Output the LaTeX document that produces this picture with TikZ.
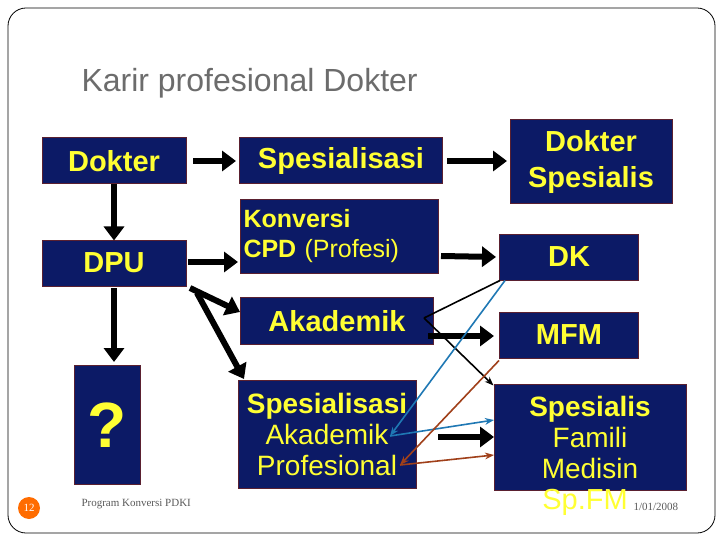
\documentclass[tikz,border=0pt]{standalone}
\usepackage{fontspec}
\setmainfont{Liberation Sans}
\newfontfamily\serifx{Liberation Serif}
\usetikzlibrary{arrows.meta}
\definecolor{navy}{HTML}{0C1A66}
\definecolor{yel}{HTML}{FFFF33}
\definecolor{bord}{HTML}{5A2030}
\definecolor{blu}{HTML}{1F78B4}
\definecolor{brn}{HTML}{A0401A}
\begin{document}
\begin{tikzpicture}[x=1pt,y=-1pt,
 box/.style={fill=navy,draw=bord,line width=1pt,text=yel,align=center,inner sep=0pt},
 bf/.style={font=\fontsize{29}{31}\selectfont\bfseries},
 big/.style={line width=6pt,-{Triangle[length=14pt,width=20pt]}},
 thin/.style={line width=1.6pt,-{Stealth[length=9pt]}}]
\useasboundingbox (0,0) rectangle (720,540);
\draw[line width=0.8pt,rounded corners=18pt] (8,8) rectangle (715,533);
\node[anchor=west,text=gray!85!black,font=\fontsize{32}{34}\selectfont] (t) at (78,83) {Karir profesional Dokter};
\node[box,minimum width=144,minimum height=46,bf] (dok) at (114,161) {Dokter};
\node[box,minimum width=203,minimum height=46,bf] (sp) at (341,161) {Spesialisasi};
\node[box,minimum width=162,minimum height=84,font=\fontsize{29}{36}\selectfont\bfseries] (ds) at (591,162) {Dokter\\Spesialis};
\node[box,minimum width=144,minimum height=46,bf] (dpu) at (114,263) {DPU};
\node[box,minimum width=198,minimum height=74,anchor=north west,align=left,text width=192,inner sep=3pt,font=\fontsize{25}{30}\selectfont] (kc) at (240,199) {\textbf{Konversi}\\\textbf{CPD} (Profesi)};
\node[box,minimum width=139,minimum height=46,bf] (dk) at (569,257) {DK};
\node[box,minimum width=193,minimum height=47,bf] (ak) at (337,321) {Akademik};
\node[box,minimum width=139,minimum height=46,bf] (mfm) at (569,335) {MFM};
\node[box,minimum width=66,minimum height=119,font=\fontsize{64}{66}\selectfont\bfseries] (q) at (107,425) {?};
\node[box,minimum width=178,minimum height=108,font=\fontsize{28}{31}\selectfont] (sap) at (327,434) {\textbf{Spesialisasi}\\Akademik\\Profesional};
\node[box,minimum width=192,minimum height=106,font=\fontsize{28}{31}\selectfont] (sfm) at (590,437) {\textbf{Spesialis}\\Famili\\Medisin};
\node[text=yel,font=\fontsize{29}{30}\selectfont] (spfm) at (585,502) {Sp.FM};
\node[circle,fill=orange!85!red,inner sep=0pt,minimum size=22,text=white,font=\serifx\fontsize{11}{12}\selectfont] (n) at (29,508) {12};
\node[anchor=west,font=\serifx\fontsize{11}{12}\selectfont,text=gray!70!black] (pk) at (78,504) {Program Konversi PDKI};
\node[anchor=west,font=\serifx\fontsize{11}{12}\selectfont,text=gray!70!black] (dt) at (630,507) {1/01/2008};
% big arrows
\coordinate (a1s) at (193,161); \coordinate (a1e) at (236,161);
\coordinate (a2s) at (447,161); \coordinate (a2e) at (507,161);
\coordinate (a3s) at (188,262); \coordinate (a3e) at (238,262);
\coordinate (a4s) at (441,256); \coordinate (a4e) at (496,257);
\coordinate (a5s) at (428,336); \coordinate (a5e) at (494,336);
\coordinate (a6s) at (438,437); \coordinate (a6e) at (494,437);
\coordinate (a7s) at (190,288); \coordinate (a7e) at (240,312);
\coordinate (a8s) at (197,293); \coordinate (a8e) at (244,379);
\coordinate (d1s) at (114,288); \coordinate (d1e) at (114,362);
\draw[big] (dok.south) -- ([yshift=-1]dpu.north);
\draw[big] (d1s) -- (d1e);
\draw[big] (a1s) -- (a1e);
\draw[big] (a2s) -- (a2e);
\draw[big] (a3s) -- (a3e);
\draw[big] (a4s) -- (a4e);
\draw[big] (a5s) -- (a5e);
\draw[big] (a6s) -- (a6e);
\draw[big] (a7s) -- (a7e);
\draw[big] (a8s) -- (a8e);
% thin connectors
\coordinate (akr) at (424,318);
\coordinate (bp) at (390,436);
\coordinate (rp) at (400,465);
\draw[line width=1.6pt] ([xshift=1]dk.south west) -- (akr);
\draw[thin] (akr) -- ([yshift=-2]sfm.north west);
\draw[thin,blu] ([xshift=6]dk.south west) -- (bp);
\draw[thin,blu] (bp) -- (494,420);
\draw[thin,brn] ([yshift=-2]mfm.south west) -- (rp);
\draw[thin,brn] (rp) -- (494,455);
\end{tikzpicture}
\end{document}
